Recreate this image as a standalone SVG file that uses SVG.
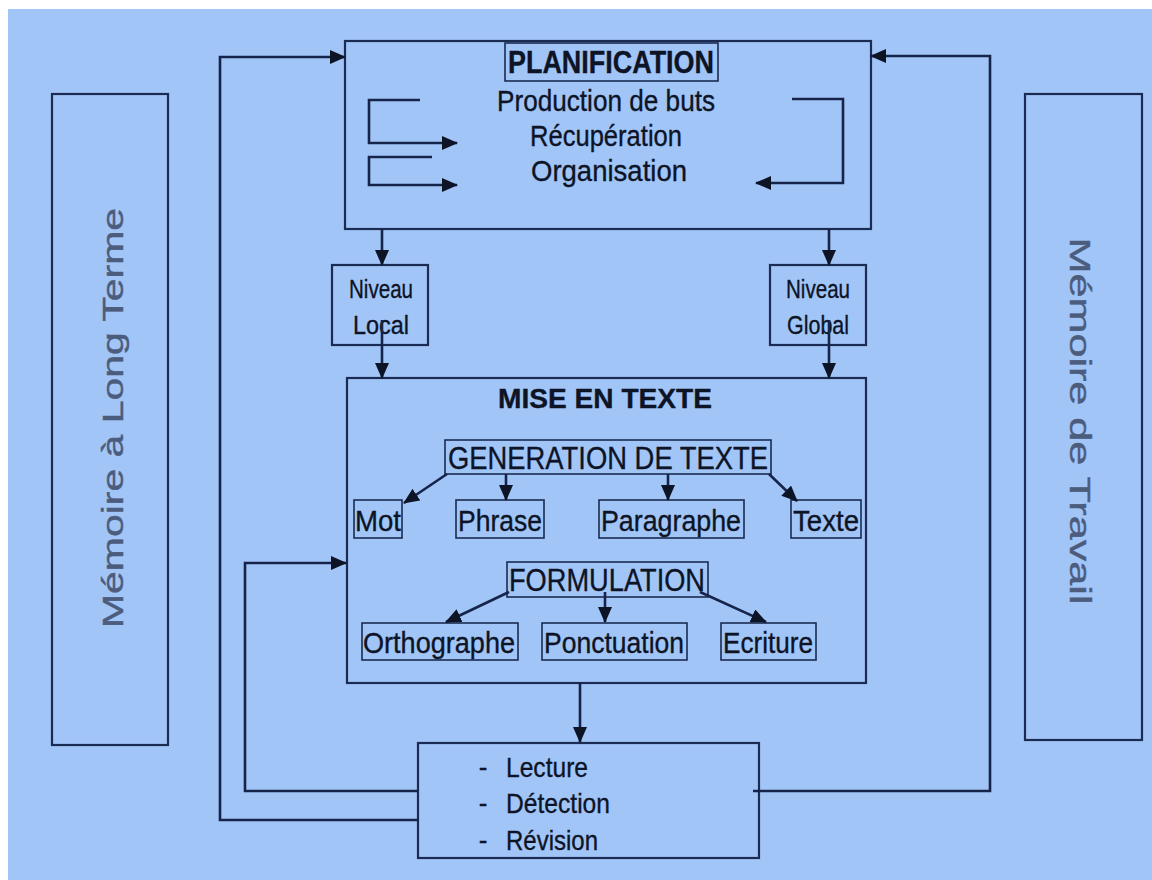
<svg xmlns="http://www.w3.org/2000/svg" width="1152" height="880" viewBox="0 0 1152 880">
  <style>
    .box { fill: none; stroke: #1b2b52; stroke-width: 2.2; }
    .lbl { fill: none; stroke: #1b2b52; stroke-width: 1.6; }
    .wire { fill: none; stroke: #16244a; stroke-width: 2.6; }
    .t { font-family: "Liberation Sans", Arial, sans-serif; fill: #0d1426; stroke: #0d1426; stroke-width: 0.35; text-anchor: middle; }
    .s { text-anchor: start; }
    .b { font-weight: bold; }
    .mem { font-family: "Liberation Sans", Arial, sans-serif; fill: #4c5c7c; stroke: #4c5c7c; stroke-width: 0.4; font-size: 29px; text-anchor: middle; }
  </style>
  <defs>
    <marker id="arr" viewBox="0 0 16 14" refX="15" refY="7" markerWidth="16" markerHeight="14" markerUnits="userSpaceOnUse" orient="auto">
      <path d="M0,0 L16,7 L0,14 z" fill="#0d1426"/>
    </marker>
  </defs>

  <rect x="0" y="0" width="1152" height="880" fill="#ffffff"/>
  <rect x="8" y="9" width="1144" height="871" fill="#a2c5f8"/>

  <!-- side memory panels -->
  <g id="memoire-long-terme">
    <rect class="box" x="52" y="94" width="116" height="651"/>
    <text class="mem" transform="translate(123,418) rotate(-90)" textLength="420" lengthAdjust="spacingAndGlyphs">Mémoire à Long Terme</text>
  </g>
  <g id="memoire-travail">
    <rect class="box" x="1025" y="94" width="117" height="646"/>
    <text class="mem" transform="translate(1070,421) rotate(90)" textLength="367" lengthAdjust="spacingAndGlyphs">Mémoire de Travail</text>
  </g>

  <!-- planning block -->
  <g id="planification">
    <rect class="box" x="345" y="41" width="526" height="188"/>
    <rect class="lbl" x="505" y="43" width="213" height="38"/>
    <text class="t b" x="611" y="73" font-size="31" textLength="206" lengthAdjust="spacingAndGlyphs">PLANIFICATION</text>
    <text class="t" x="606" y="111" font-size="29" textLength="218" lengthAdjust="spacingAndGlyphs">Production de buts</text>
    <text class="t" x="606" y="146" font-size="29" textLength="152" lengthAdjust="spacingAndGlyphs">Récupération</text>
    <text class="t" x="609" y="181" font-size="29" textLength="156" lengthAdjust="spacingAndGlyphs">Organisation</text>
  </g>

  <g id="niveau-local">
    <rect class="box" x="332" y="265" width="96" height="80"/>
    <text class="t" x="381" y="298" font-size="26" textLength="64" lengthAdjust="spacingAndGlyphs">Niveau</text>
    <text class="t" x="381" y="334" font-size="26" textLength="56" lengthAdjust="spacingAndGlyphs">Local</text>
  </g>
  <g id="niveau-global">
    <rect class="box" x="770" y="265" width="96" height="80"/>
    <text class="t" x="818" y="298" font-size="26" textLength="64" lengthAdjust="spacingAndGlyphs">Niveau</text>
    <text class="t" x="818" y="334" font-size="26" textLength="62" lengthAdjust="spacingAndGlyphs">Global</text>
  </g>

  <!-- text production block -->
  <g id="mise-en-texte">
    <rect class="box" x="347" y="378" width="519" height="305"/>
    <text class="t b" x="605" y="408" font-size="27" textLength="214" lengthAdjust="spacingAndGlyphs">MISE EN TEXTE</text>
  </g>
  <g id="generation">
    <rect class="lbl" x="445" y="440" width="326" height="34"/>
    <text class="t" x="608" y="469" font-size="31" textLength="320" lengthAdjust="spacingAndGlyphs">GENERATION DE TEXTE</text>
  </g>
  <g id="mot">
    <rect class="lbl" x="354" y="500" width="48" height="38"/>
    <text class="t" x="378" y="531" font-size="29" textLength="46" lengthAdjust="spacingAndGlyphs">Mot</text>
  </g>
  <g id="phrase">
    <rect class="lbl" x="456" y="500" width="88" height="38"/>
    <text class="t" x="500" y="531" font-size="29" textLength="84" lengthAdjust="spacingAndGlyphs">Phrase</text>
  </g>
  <g id="paragraphe">
    <rect class="lbl" x="599" y="500" width="145" height="38"/>
    <text class="t" x="671" y="531" font-size="29" textLength="140" lengthAdjust="spacingAndGlyphs">Paragraphe</text>
  </g>
  <g id="texte">
    <rect class="lbl" x="791" y="500" width="70" height="38"/>
    <text class="t" x="826" y="531" font-size="29" textLength="66" lengthAdjust="spacingAndGlyphs">Texte</text>
  </g>
  <g id="formulation">
    <rect class="lbl" x="507" y="562" width="201" height="35"/>
    <text class="t" x="607" y="591" font-size="31" textLength="196" lengthAdjust="spacingAndGlyphs">FORMULATION</text>
  </g>
  <g id="orthographe">
    <rect class="lbl" x="362" y="623" width="156" height="37"/>
    <text class="t" x="439" y="653" font-size="29" textLength="152" lengthAdjust="spacingAndGlyphs">Orthographe</text>
  </g>
  <g id="ponctuation">
    <rect class="lbl" x="542" y="623" width="145" height="37"/>
    <text class="t" x="614" y="653" font-size="29" textLength="140" lengthAdjust="spacingAndGlyphs">Ponctuation</text>
  </g>
  <g id="ecriture">
    <rect class="lbl" x="721" y="623" width="95" height="37"/>
    <text class="t" x="768" y="653" font-size="29" textLength="90" lengthAdjust="spacingAndGlyphs">Ecriture</text>
  </g>

  <!-- revision block -->
  <g id="revision">
    <rect class="box" x="418" y="743" width="341" height="115"/>
    <text class="t" x="483" y="776" font-size="26">-</text>
    <text class="t" x="483" y="812" font-size="26">-</text>
    <text class="t" x="483" y="849" font-size="26">-</text>
    <text class="t s" x="506" y="777" font-size="28" textLength="82" lengthAdjust="spacingAndGlyphs">Lecture</text>
    <text class="t s" x="506" y="813" font-size="28" textLength="104" lengthAdjust="spacingAndGlyphs">Détection</text>
    <text class="t s" x="506" y="850" font-size="28" textLength="92" lengthAdjust="spacingAndGlyphs">Révision</text>
  </g>

  <!-- connectors -->
  <g id="connectors">
    <!-- inner planning loops -->
    <path class="wire" d="M420,100 H369 V143 H457" marker-end="url(#arr)"/>
    <path class="wire" d="M432,157 H369 V185 H457" marker-end="url(#arr)"/>
    <path class="wire" d="M792,99 H843 V183 H756" marker-end="url(#arr)"/>
    <!-- planning to levels, levels to text production -->
    <path class="wire" d="M382,229 V265" marker-end="url(#arr)"/>
    <path class="wire" d="M829,229 V265" marker-end="url(#arr)"/>
    <path class="wire" d="M382,320 V378" marker-end="url(#arr)"/>
    <path class="wire" d="M829,320 V378" marker-end="url(#arr)"/>
    <!-- text generation fan-out -->
    <path class="wire" d="M447,474 L404,503" marker-end="url(#arr)"/>
    <path class="wire" d="M506,474 V500" marker-end="url(#arr)"/>
    <path class="wire" d="M668,474 V500" marker-end="url(#arr)"/>
    <path class="wire" d="M769,474 L797,501" marker-end="url(#arr)"/>
    <!-- formulation fan-out -->
    <path class="wire" d="M509,592 L446,622" marker-end="url(#arr)"/>
    <path class="wire" d="M605,592 V622" marker-end="url(#arr)"/>
    <path class="wire" d="M700,592 L766,622" marker-end="url(#arr)"/>
    <!-- text production to revision -->
    <path class="wire" d="M580,683 V742" marker-end="url(#arr)"/>
    <!-- feedback loops -->
    <path class="wire" d="M418,820 H220 V57 H345" marker-end="url(#arr)"/>
    <path class="wire" d="M418,791 H245 V563 H346" marker-end="url(#arr)"/>
    <path class="wire" d="M753,791 H990 V56 H871" marker-end="url(#arr)"/>
  </g>
</svg>
